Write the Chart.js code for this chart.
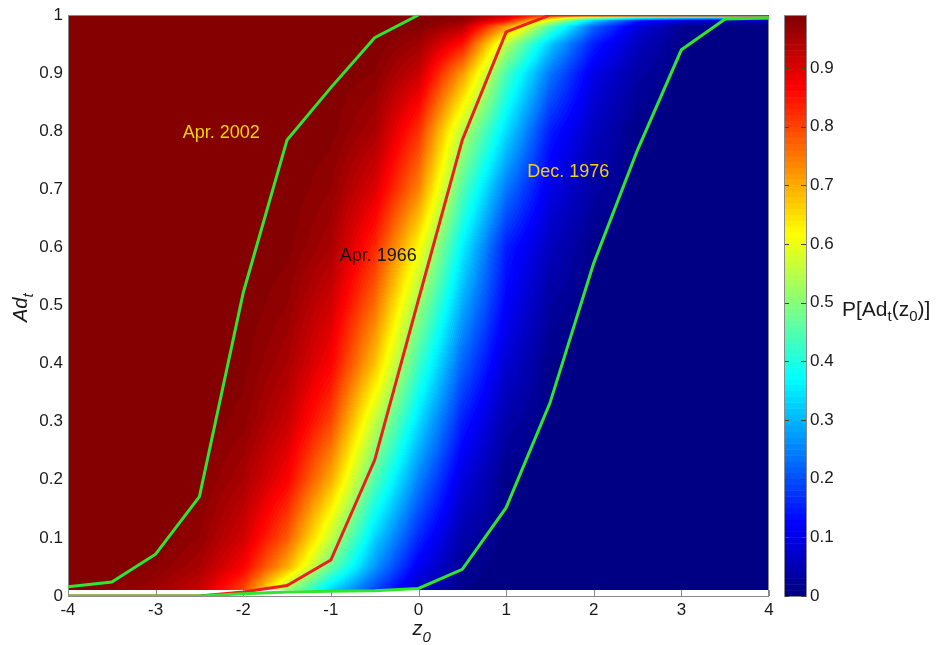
<!DOCTYPE html>
<html>
<head>
<meta charset="utf-8">
<script src="https://cdn.jsdelivr.net/npm/chart.js@4.4.0/dist/chart.umd.min.js"></script>
<style>
  html, body { margin: 0; padding: 0; background: #fff; }
  #wrap { width: 939px; height: 645px; position: relative; }
</style>
</head>
<body>
<div id="wrap"><canvas id="contourChart" width="939" height="645"></canvas></div>
<script>
// grid of the probability field
const zCols = [-4, -3.5, -3, -2.5, -2, -1.5, -1, -0.5, 0, 0.5, 1, 1.5, 2, 2.5, 3, 3.5, 4];
const yRows = [0.01, 0.05, 0.1, 0.2, 0.3, 0.4, 0.5, 0.6, 0.7, 0.8, 0.9, 0.95, 0.98, 0.99, 1.0];
const pGrid = [
  [0.99, 0.98, 0.96, 0.92, 0.80, 0.52, 0.33, 0.19, 0.06, 0.01, 0, 0, 0, 0, 0, 0, 0],
  [0.99, 0.99, 0.98, 0.95, 0.87, 0.70, 0.47, 0.27, 0.11, 0.02, 0, 0, 0, 0, 0, 0, 0],
  [0.99, 0.99, 0.99, 0.97, 0.91, 0.78, 0.56, 0.33, 0.16, 0.04, 0.005, 0, 0, 0, 0, 0, 0],
  [0.99, 0.99, 0.99, 0.985, 0.95, 0.87, 0.70, 0.45, 0.25, 0.09, 0.01, 0, 0, 0, 0, 0, 0],
  [0.99, 0.99, 0.99, 0.99, 0.975, 0.92, 0.80, 0.56, 0.34, 0.15, 0.04, 0.005, 0, 0, 0, 0, 0],
  [0.99, 0.99, 0.99, 0.99, 0.985, 0.95, 0.87, 0.68, 0.43, 0.22, 0.08, 0.01, 0, 0, 0, 0, 0],
  [0.99, 0.99, 0.99, 0.99, 0.99, 0.97, 0.91, 0.76, 0.52, 0.29, 0.12, 0.03, 0.004, 0, 0, 0, 0],
  [0.99, 0.99, 0.99, 0.99, 0.99, 0.985, 0.95, 0.83, 0.62, 0.36, 0.15, 0.06, 0.01, 0, 0, 0, 0],
  [0.99, 0.99, 0.99, 0.99, 0.99, 0.99, 0.97, 0.90, 0.74, 0.45, 0.24, 0.10, 0.035, 0.005, 0, 0, 0],
  [0.99, 0.99, 0.99, 0.99, 0.99, 0.99, 0.985, 0.95, 0.82, 0.55, 0.34, 0.15, 0.06, 0.01, 0, 0, 0],
  [0.99, 0.99, 0.99, 0.99, 0.99, 0.99, 0.99, 0.98, 0.92, 0.72, 0.44, 0.24, 0.10, 0.035, 0.005, 0, 0],
  [0.99, 0.99, 0.99, 0.99, 0.99, 0.99, 0.99, 0.99, 0.96, 0.85, 0.55, 0.32, 0.15, 0.06, 0.01, 0, 0],
  [0.99, 0.99, 0.99, 0.99, 0.99, 0.99, 0.99, 0.99, 0.985, 0.94, 0.72, 0.45, 0.22, 0.09, 0.02, 0.004, 0],
  [0.99, 0.99, 0.99, 0.99, 0.99, 0.99, 0.99, 0.99, 0.99, 0.97, 0.85, 0.58, 0.32, 0.15, 0.08, 0.05, 0.05],
  [0.99, 0.99, 0.99, 0.99, 0.99, 0.99, 0.99, 0.99, 0.99, 0.98, 0.93, 0.82, 0.70, 0.64, 0.62, 0.60, 0.60]
];

// the three curves, same z positions as the grid
const apr2002 = [0.016, 0.024, 0.072, 0.171, 0.522, 0.785, 0.875, 0.961, 1.0, null, null, null, null, null, null, null, null];
const apr1966 = [0, 0, 0, 0, 0.007, 0.018, 0.062, 0.234, 0.51, 0.785, 0.971, 1.0, 1.0, 1.0, 1.0, 1.0, 1.0];
const dec1976 = [0, 0, 0, 0, 0.004, 0.007, 0.008, 0.009, 0.013, 0.046, 0.152, 0.332, 0.573, 0.768, 0.94, 0.993, 0.995];

// tick labels
const xTicks = [-4, -3, -2, -1, 0, 1, 2, 3, 4];
const yTicks = [0, 0.1, 0.2, 0.3, 0.4, 0.5, 0.6, 0.7, 0.8, 0.9, 1];
const cbTicks = [0, 0.1, 0.2, 0.3, 0.4, 0.5, 0.6, 0.7, 0.8, 0.9];
const cbMax = 0.99;
const levelStep = 0.01;

// curve labels (z, Ad_t at left/middle of text)
const curveLabels = [
  { text: 'Apr. 2002', z: -2.69, y: 0.797, color: '#f2d40c' },
  { text: 'Apr. 1966', z: -0.90, y: 0.585, color: '#111111' },
  { text: 'Dec. 1976', z: 1.24, y: 0.729, color: '#f2d40c' }
];

const FONT = "'Liberation Sans', Arial, sans-serif";
const GREEN = '#2fe62f';
const RED = '#ee1e1e';

function jet(t) {
  const c = v => Math.max(0, Math.min(1, v));
  return [c(1.5 - Math.abs(4 * t - 3)), c(1.5 - Math.abs(4 * t - 2)), c(1.5 - Math.abs(4 * t - 1))]
    .map(v => Math.round(v * 255));
}

function levelColor(p) {
  const n = Math.round(cbMax / levelStep);
  let k = Math.floor(p / levelStep + 1e-6);
  if (k > n - 1) k = n - 1;
  if (k < 0) k = 0;
  return jet((k + 0.5) / n);
}

function fieldAt(z, y) {
  if (y < yRows[0] || y > yRows[yRows.length - 1]) return null;
  let i = 0;
  while (i < yRows.length - 2 && y > yRows[i + 1]) i++;
  let j = 0;
  while (j < zCols.length - 2 && z > zCols[j + 1]) j++;
  const ty = (y - yRows[i]) / (yRows[i + 1] - yRows[i]);
  const tz = Math.max(0, Math.min(1, (z - zCols[j]) / (zCols[j + 1] - zCols[j])));
  const a = pGrid[i][j], b = pGrid[i][j + 1], c = pGrid[i + 1][j], d = pGrid[i + 1][j + 1];
  return (a * (1 - tz) + b * tz) * (1 - ty) + (c * (1 - tz) + d * tz) * ty;
}

function toPoints(arr) {
  return zCols.map((z, i) => ({ x: z, y: arr[i] }));
}

// vertical axes should not push the plot area around
function noPad(s) {
  s.paddingTop = 0;
  s.paddingBottom = 0;
}

const fieldPlugin = {
  id: 'field',
  beforeDatasetsDraw(chart) {
    const ctx = chart.ctx;
    const area = chart.chartArea;
    const xs = chart.scales.x, ys = chart.scales.y;

    // inward tick marks (mostly hidden by the field, like the original)
    ctx.save();
    ctx.strokeStyle = '#8a8a8a';
    ctx.lineWidth = 1;
    ctx.beginPath();
    xTicks.forEach(v => {
      const px = Math.round(xs.getPixelForValue(v)) + 0.5;
      ctx.moveTo(px, area.bottom); ctx.lineTo(px, area.bottom - 6);
    });
    ctx.stroke();
    ctx.restore();

    // the filled field
    const w = Math.round(area.right - area.left), h = Math.round(area.bottom - area.top);
    const off = document.createElement('canvas');
    off.width = w; off.height = h;
    const octx = off.getContext('2d');
    const img = octx.createImageData(w, h);
    for (let py = 0; py < h; py++) {
      const yv = ys.getValueForPixel(area.top + py + 0.5);
      for (let px = 0; px < w; px++) {
        const zv = xs.getValueForPixel(area.left + px + 0.5);
        const p = fieldAt(zv, yv);
        if (p === null) continue;
        const col = levelColor(p);
        const o = (py * w + px) * 4;
        img.data[o] = col[0]; img.data[o + 1] = col[1]; img.data[o + 2] = col[2]; img.data[o + 3] = 255;
      }
    }
    octx.putImageData(img, 0, 0);
    ctx.drawImage(off, area.left, area.top);

    // axes box
    ctx.save();
    ctx.strokeStyle = '#8a8a8a';
    ctx.lineWidth = 1;
    ctx.strokeRect(area.left + 0.5, area.top + 0.5, w - 1, h);
    ctx.restore();

    // colour bar
    const cb = chart.scales.cb;
    const cbLeft = area.right + 16, cbW = 21;
    const n = Math.round(cbMax / levelStep);
    for (let k = 0; k < n; k++) {
      const y0 = cb.getPixelForValue(k * levelStep);
      const y1 = cb.getPixelForValue(Math.min(cbMax, (k + 1) * levelStep));
      const col = jet((k + 0.5) / n);
      ctx.fillStyle = 'rgb(' + col.join(',') + ')';
      ctx.fillRect(cbLeft, y1, cbW, y0 - y1 + 0.5);
    }
    const cbTop = cb.getPixelForValue(cbMax), cbBot = cb.getPixelForValue(0);
    ctx.save();
    ctx.strokeStyle = '#8a8a8a';
    ctx.lineWidth = 1;
    ctx.strokeRect(cbLeft - 0.5, cbTop + 0.5, cbW + 1, cbBot - cbTop);
    ctx.strokeStyle = '#444';
    ctx.beginPath();
    cbTicks.forEach(v => {
      const py = Math.round(cb.getPixelForValue(v)) + 0.5;
      ctx.moveTo(cbLeft, py); ctx.lineTo(cbLeft + 4, py);
      ctx.moveTo(cbLeft + cbW, py); ctx.lineTo(cbLeft + cbW - 5, py);
    });
    ctx.stroke();
    ctx.restore();
  },
  afterDraw(chart) {
    const ctx = chart.ctx;
    const xs = chart.scales.x, ys = chart.scales.y;

    ctx.save();
    // curve labels
    ctx.font = '18px ' + FONT;
    ctx.textBaseline = 'middle';
    ctx.textAlign = 'left';
    curveLabels.forEach(l => {
      ctx.fillStyle = l.color;
      ctx.fillText(l.text, xs.getPixelForValue(l.z), ys.getPixelForValue(l.y));
    });

    ctx.fillStyle = '#1a1a1a';
    ctx.textBaseline = 'alphabetic';

    // x axis title: z_0
    const xc = xs.getPixelForValue(0) - 6;
    ctx.font = 'italic 20px ' + FONT;
    ctx.fillText('z', xc, 635);
    const zw = ctx.measureText('z').width;
    ctx.font = 'italic 15px ' + FONT;
    ctx.fillText('0', xc + zw, 642);

    // y axis title: Ad_t (rotated)
    ctx.save();
    ctx.translate(27, 322);
    ctx.rotate(-Math.PI / 2);
    ctx.font = 'italic 20px ' + FONT;
    ctx.fillText('Ad', 0, 0);
    const adw = ctx.measureText('Ad').width;
    ctx.font = 'italic 15px ' + FONT;
    ctx.fillText('t', adw, 6);
    ctx.restore();

    // colour bar title: P[Ad_t(z_0)]
    let x = 842;
    const base = 316;
    const parts = [['P[Ad', 21, 0], ['t', 15, 5], ['(z', 21, 0], ['0', 15, 5], [')]', 21, 0]];
    parts.forEach(p => {
      ctx.font = p[1] + 'px ' + FONT;
      ctx.fillText(p[0], x, base + p[2]);
      x += ctx.measureText(p[0]).width;
    });
    ctx.restore();
  }
};

const ctx = document.getElementById('contourChart').getContext('2d');
const contourChart = new Chart(ctx, {
  type: 'scatter',
  data: {
    datasets: [
      { label: 'Dec. 1976', data: toPoints(dec1976), showLine: true, borderColor: GREEN, borderWidth: 3, pointRadius: 0, spanGaps: false },
      { label: 'Apr. 2002', data: toPoints(apr2002), showLine: true, borderColor: GREEN, borderWidth: 3, pointRadius: 0, spanGaps: false },
      { label: 'Apr. 1966', data: toPoints(apr1966), showLine: true, borderColor: RED, borderWidth: 3, pointRadius: 0, spanGaps: false }
    ]
  },
  options: {
    responsive: false,
    animation: false,
    devicePixelRatio: 1,
    layout: { autoPadding: false, padding: { top: 15, left: 0, right: 0, bottom: 0 } },
    plugins: { legend: { display: false }, tooltip: { enabled: false } },
    elements: { line: { tension: 0 } },
    scales: {
      x: {
        type: 'linear', position: 'bottom', min: -4, max: 4,
        afterBuildTicks: s => { s.ticks = xTicks.map(v => ({ value: v })); },
        afterFit: s => { s.height = 49; s.paddingLeft = 0; s.paddingRight = 0; },
        grid: { display: false, drawTicks: false },
        border: { display: false },
        ticks: { padding: 4, color: '#1a1a1a', font: { family: FONT, size: 17 }, callback: v => String(v) }
      },
      y: {
        type: 'linear', position: 'left', min: 0, max: 1,
        afterBuildTicks: s => { s.ticks = yTicks.map(v => ({ value: v })); },
        afterFit: s => { s.width = 68; noPad(s); },
        grid: { display: false, drawTicks: false },
        border: { display: false },
        ticks: { padding: 5, color: '#1a1a1a', font: { family: FONT, size: 17 }, callback: v => String(v) }
      },
      cb: {
        type: 'linear', position: 'right', min: 0, max: cbMax,
        afterBuildTicks: s => { s.ticks = cbTicks.map(v => ({ value: v })); },
        afterFit: s => { s.width = 170; noPad(s); },
        grid: { display: false, drawTicks: false },
        border: { display: false },
        ticks: { padding: 41, color: '#1a1a1a', font: { family: FONT, size: 17 }, callback: v => String(v) }
      }
    }
  },
  plugins: [fieldPlugin]
});
</script>
</body>
</html>
